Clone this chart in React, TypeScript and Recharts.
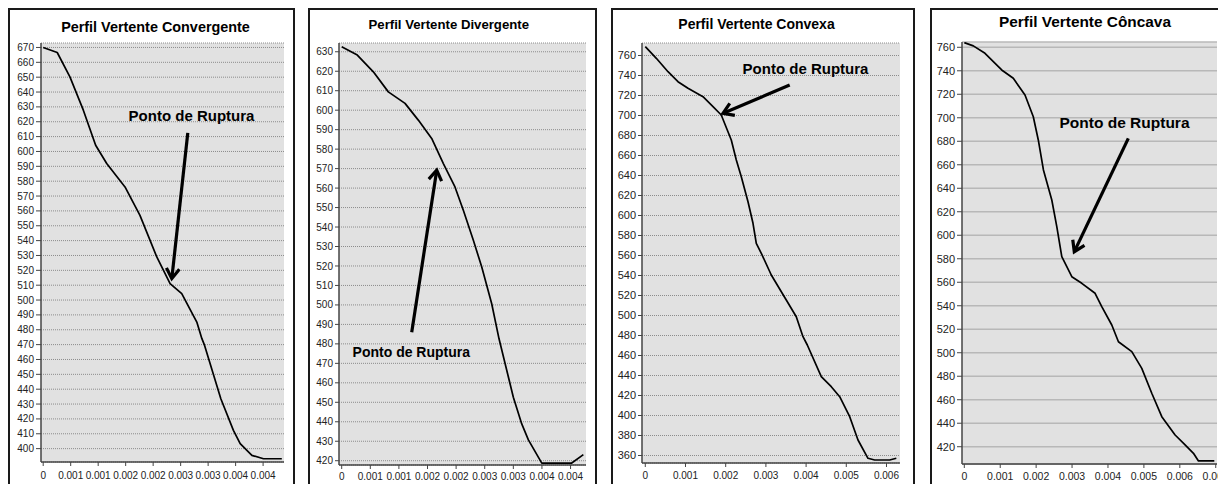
import React from 'react';
import { LineChart, Line, XAxis, YAxis, CartesianGrid, ReferenceLine, ReferenceDot } from 'recharts';

const FONT = 'Arial, "Liberation Sans", Helvetica, sans-serif';

// ---------- Panel 1: Convergente ----------
const convTitle = 'Perfil Vertente Convergente';
const convX = [0, 0.000255, 0.000486, 0.00073, 0.000954, 0.001155, 0.001488, 0.00176, 0.002066, 0.002308, 0.00252, 0.002794, 0.002885, 0.00293, 0.003231, 0.00346, 0.003583, 0.003796, 0.004007, 0.00434];
const convY = [670, 666.6, 650.2, 627.8, 604.2, 591.9, 576.1, 557, 529, 511, 504.3, 485.2, 474.2, 470, 433.6, 412.3, 403.3, 395.5, 393.2, 393.2];
const convXTicks = [0, 0.0005, 0.001, 0.0015, 0.002, 0.0025, 0.003, 0.0035, 0.004];
const convXLabels = ['0', '0.001', '0.001', '0.002', '0.002', '0.003', '0.003', '0.004', '0.004'];
const convYTicks = [400, 410, 420, 430, 440, 450, 460, 470, 480, 490, 500, 510, 520, 530, 540, 550, 560, 570, 580, 590, 600, 610, 620, 630, 640, 650, 660, 670];

// ---------- Panel 2: Divergente ----------
const divTitle = 'Perfil Vertente Divergente';
const divX = [0, 0.000273, 0.000553, 0.000815, 0.001107, 0.001339, 0.001573, 0.001777, 0.00198, 0.002126, 0.002301, 0.002448, 0.002622, 0.00275, 0.003, 0.003147, 0.003263, 0.003497, 0.004021, 0.004224];
const divY = [632.6, 628.3, 619.7, 609.4, 603.5, 594.9, 585.5, 572.6, 560.6, 548.6, 533.2, 519.5, 500.6, 482.6, 452.6, 438.9, 430.7, 418.8, 418.8, 423.1];
const divXTicks = [0, 0.0005, 0.001, 0.0015, 0.002, 0.0025, 0.003, 0.0035, 0.004];
const divXLabels = ['0', '0.001', '0.001', '0.002', '0.002', '0.003', '0.003', '0.004', '0.004'];
const divYTicks = [420, 430, 440, 450, 460, 470, 480, 490, 500, 510, 520, 530, 540, 550, 560, 570, 580, 590, 600, 610, 620, 630];

// ---------- Panel 3: Convexa ----------
const cvxTitle = 'Perfil Vertente Convexa';
const cvxX = [0, 0.000274, 0.000565, 0.000813, 0.001062, 0.001435, 0.001684, 0.00189, 0.002139, 0.002264, 0.002388, 0.002555, 0.002679, 0.002761, 0.002886, 0.003134, 0.003507, 0.003756, 0.003923, 0.00403, 0.004378, 0.004627, 0.004836, 0.005085, 0.005291, 0.00554, 0.005706, 0.00608, 0.006244];
const cvxY = [768.8, 757.2, 743.8, 733.8, 727.2, 718.8, 708.8, 700.5, 675.5, 655.5, 638.8, 613.8, 592.2, 572.2, 562.2, 540.5, 515.5, 498.8, 478.8, 470.5, 438.8, 428.8, 418.8, 398.8, 375.5, 357.2, 355.5, 355.5, 357.2];
const cvxXTicks = [0, 0.001, 0.002, 0.003, 0.004, 0.005, 0.006];
const cvxXLabels = ['0', '0.001', '0.002', '0.003', '0.004', '0.005', '0.006'];
const cvxYTicks = [360, 380, 400, 420, 440, 460, 480, 500, 520, 540, 560, 580, 600, 620, 640, 660, 680, 700, 720, 740, 760];

// ---------- Panel 4: Côncava ----------
const ccvTitle = 'Perfil Vertente Côncava';
const ccvX = [0, 0.000251, 0.000576, 0.001041, 0.001364, 0.00169, 0.001921, 0.00206, 0.002203, 0.002436, 0.002575, 0.002714, 0.002993, 0.003271, 0.003641, 0.003827, 0.004106, 0.004291, 0.004663, 0.004941, 0.005219, 0.005498, 0.005869, 0.006147, 0.00638, 0.006519, 0.00696];
const ccvY = [764, 761.2, 754.9, 740.7, 733.6, 719.4, 700.9, 681.1, 655.6, 630, 607.3, 581.8, 564.7, 559.1, 550.6, 539.2, 523.6, 509.4, 500.9, 486.7, 465.5, 445.6, 430, 421.5, 414.4, 407.9, 407.9];
const ccvXTicks = [0, 0.001, 0.002, 0.003, 0.004, 0.005, 0.006, 0.007];
const ccvXLabels = ['0', '0.001', '0.002', '0.003', '0.004', '0.005', '0.006', '0.007'];
const ccvYTicks = [420, 440, 460, 480, 500, 520, 540, 560, 580, 600, 620, 640, 660, 680, 700, 720, 740, 760];

// annotation ("Ponto de Ruptura") positions, in data units
const annotText = 'Ponto de Ruptura';
const convAnnot = { tx: 0.002698, ty: 624, ax1: 0.00263, ay1: 612.5, ax2: 0.002339, ay2: 514.4 };
const divAnnot = { tx: 0.001217, ty: 475.6, ax1: 0.001224, ay1: 486, ax2: 0.001661, ay2: 569.2 };
const cvxAnnot = { tx: 0.003985, ty: 746.8, ax1: 0.003592, ay1: 730.5, ax2: 0.001933, ay2: 702.2 };
const ccvAnnot = { tx: 0.00446, ty: 695.7, ax1: 0.004566, ay1: 682.5, ax2: 0.003062, ay2: 586 };

const toRows = (xs: number[], ys: number[]) => xs.map((x, i) => ({ x, y: ys[i] }));

const arrowShape = (w: number) => (props: any) => {
  const { x1, y1, x2, y2 } = props;
  if ([x1, y1, x2, y2].some((v) => typeof v !== 'number' || isNaN(v))) return <g />;
  const ang = Math.atan2(y2 - y1, x2 - x1);
  const L = 12;
  const a = Math.PI / 5.5;
  const p1 = [x2 - L * Math.cos(ang - a), y2 - L * Math.sin(ang - a)];
  const p2 = [x2 - L * Math.cos(ang + a), y2 - L * Math.sin(ang + a)];
  return (
    <g>
      <line x1={x1} y1={y1} x2={x2 - 1.5 * Math.cos(ang)} y2={y2 - 1.5 * Math.sin(ang)} stroke="#000" strokeWidth={w} strokeLinecap="butt" />
      <polyline points={`${p1[0]},${p1[1]} ${x2},${y2} ${p2[0]},${p2[1]}`} fill="none" stroke="#000" strokeWidth={w} strokeLinejoin="miter" strokeLinecap="butt" />
    </g>
  );
};

const textShape = (size: number) => (props: any) => (
  <text x={props.cx} y={props.cy} textAnchor="middle" dominantBaseline="central" fontFamily={FONT} fontWeight="bold" fontSize={size} fill="#000">
    {annotText}
  </text>
);

type PanelProps = {
  left: number; width: number; yAxisW: number; marginTop: number; marginRight: number; xAxisH: number;
  xs: number[]; ys: number[]; xDomain: [number, number]; yDomain: [number, number];
  xTicks: number[]; xLabels: string[]; yTicks: number[];
  yFont: number; xFont: number; yTickSize: number; xTickMargin: number;
  grid: { stroke: string; dash?: string; width: number };
  annot: { tx: number; ty: number; ax1: number; ay1: number; ax2: number; ay2: number };
  annotSize: number;
};

function Panel(p: PanelProps) {
  const data = toRows(p.xs, p.ys);
  return (
    <div style={{ position: 'absolute', left: p.left, top: 0 }}>
      <LineChart
        width={p.width}
        height={493}
        data={data}
        margin={{ top: p.marginTop, right: p.marginRight, bottom: 1, left: 0 }}
      >
        <CartesianGrid vertical={false} fill="#e1e1e1" fillOpacity={1} stroke={p.grid.stroke} strokeDasharray={p.grid.dash} strokeWidth={p.grid.width} />
        <XAxis
          dataKey="x" type="number" domain={p.xDomain} allowDataOverflow ticks={p.xTicks} interval={0}
          tickFormatter={(_v: any, i: number) => p.xLabels[i]}
          height={p.xAxisH} tickSize={4} tickMargin={p.xTickMargin}
          tick={{ fontSize: p.xFont, fontFamily: FONT, fill: '#222' }}
          axisLine={{ stroke: '#444', strokeWidth: 1.5 }} tickLine={{ stroke: '#444' }}
        />
        <XAxis xAxisId="top" orientation="top" type="number" domain={p.xDomain} allowDataOverflow height={0} tick={false} tickLine={false} axisLine={{ stroke: '#a8a8a8', strokeWidth: 1.5 }} />
        <YAxis
          type="number" domain={p.yDomain} allowDataOverflow ticks={p.yTicks} interval={0}
          width={p.yAxisW} tickSize={p.yTickSize} tickMargin={2}
          tick={{ fontSize: p.yFont, fontFamily: FONT, fill: '#222' }}
          axisLine={{ stroke: '#444', strokeWidth: 1.5 }} tickLine={{ stroke: '#444' }}
        />
        <YAxis yAxisId="right" orientation="right" type="number" domain={p.yDomain} allowDataOverflow width={0} tick={false} tickLine={false} axisLine={{ stroke: '#9a9a9a', strokeWidth: 2 }} />
        <Line dataKey="y" type="linear" stroke="#000" strokeWidth={1.7} strokeLinejoin="round" dot={false} activeDot={false} isAnimationActive={false} />
        <ReferenceLine
          segment={[{ x: p.annot.ax1, y: p.annot.ay1 }, { x: p.annot.ax2, y: p.annot.ay2 }]}
          ifOverflow="visible"
          shape={arrowShape(3.2)}
        />
        <ReferenceDot x={p.annot.tx} y={p.annot.ty} r={0} ifOverflow="visible" shape={textShape(p.annotSize)} />
      </LineChart>
    </div>
  );
}

const boxStyle = (left: number, width: number): React.CSSProperties => ({
  position: 'absolute', left, top: 8, width, height: 476, boxSizing: 'border-box',
  borderTop: '2px solid #1a1a1a', borderLeft: '2px solid #1a1a1a', borderRight: '2px solid #1a1a1a',
});

const titleStyle = (cx: number, cy: number, size: number): React.CSSProperties => ({
  position: 'absolute', left: cx - 150, top: cy - 10, width: 300, height: 20, lineHeight: '20px',
  textAlign: 'center', fontFamily: FONT, fontWeight: 'bold', fontSize: size, color: '#000', whiteSpace: 'nowrap',
});

export default function App() {
  return (
    <div style={{ position: 'fixed', left: 0, top: 0, width: 1218, height: 493, overflow: 'hidden', background: '#fff' }}>
      <Panel
        left={0} width={300} yAxisW={41} marginTop={43} marginRight={16} xAxisH={30}
        xs={convX} ys={convY} xDomain={[-0.00004, 0.00438]} yDomain={[391, 673]}
        xTicks={convXTicks} xLabels={convXLabels} yTicks={convYTicks}
        yFont={10} xFont={10} yTickSize={5} xTickMargin={6}
        grid={{ stroke: '#8c8c8c', dash: '1 1', width: 1 }}
        annot={convAnnot} annotSize={15}
      />
      <Panel
        left={300} width={300} yAxisW={39} marginTop={43} marginRight={14} xAxisH={27}
        xs={divX} ys={divY} xDomain={[-0.000047, 0.00427]} yDomain={[417.8, 634.5]}
        xTicks={divXTicks} xLabels={divXLabels} yTicks={divYTicks}
        yFont={10} xFont={10} yTickSize={4} xTickMargin={4}
        grid={{ stroke: '#8c8c8c', dash: '1 1', width: 1 }}
        annot={divAnnot} annotSize={14}
      />
      <Panel
        left={600} width={310} yAxisW={42} marginTop={43} marginRight={10} xAxisH={29}
        xs={cvxX} ys={cvxY} xDomain={[-0.000082, 0.006336]} yDomain={[352.5, 772.5]}
        xTicks={cvxXTicks} xLabels={cvxXLabels} yTicks={cvxYTicks}
        yFont={11} xFont={10} yTickSize={4} xTickMargin={5}
        grid={{ stroke: '#8c8c8c', dash: '1 1', width: 1 }}
        annot={cvxAnnot} annotSize={15}
      />
      <Panel
        left={915} width={310} yAxisW={47} marginTop={42} marginRight={8} xAxisH={28}
        xs={ccvX} ys={ccvY} xDomain={[-0.000064, 0.007035]} yDomain={[405.3, 764.5]}
        xTicks={ccvXTicks} xLabels={ccvXLabels} yTicks={ccvYTicks}
        yFont={11} xFont={10.5} yTickSize={5} xTickMargin={4.5}
        grid={{ stroke: '#b8b8b8', width: 1.5 }}
        annot={ccvAnnot} annotSize={15.5}
      />
      <div style={boxStyle(8, 287)} />
      <div style={boxStyle(308, 289)} />
      <div style={boxStyle(611, 304)} />
      <div style={boxStyle(930, 400)} />
      <div style={titleStyle(155.5, 26.7, 14.4)}>{convTitle}</div>
      <div style={titleStyle(448.8, 25.3, 13.2)}>{divTitle}</div>
      <div style={titleStyle(756.5, 24.3, 14)}>{cvxTitle}</div>
      <div style={titleStyle(1085, 22.3, 15.4)}>{ccvTitle}</div>
    </div>
  );
}
